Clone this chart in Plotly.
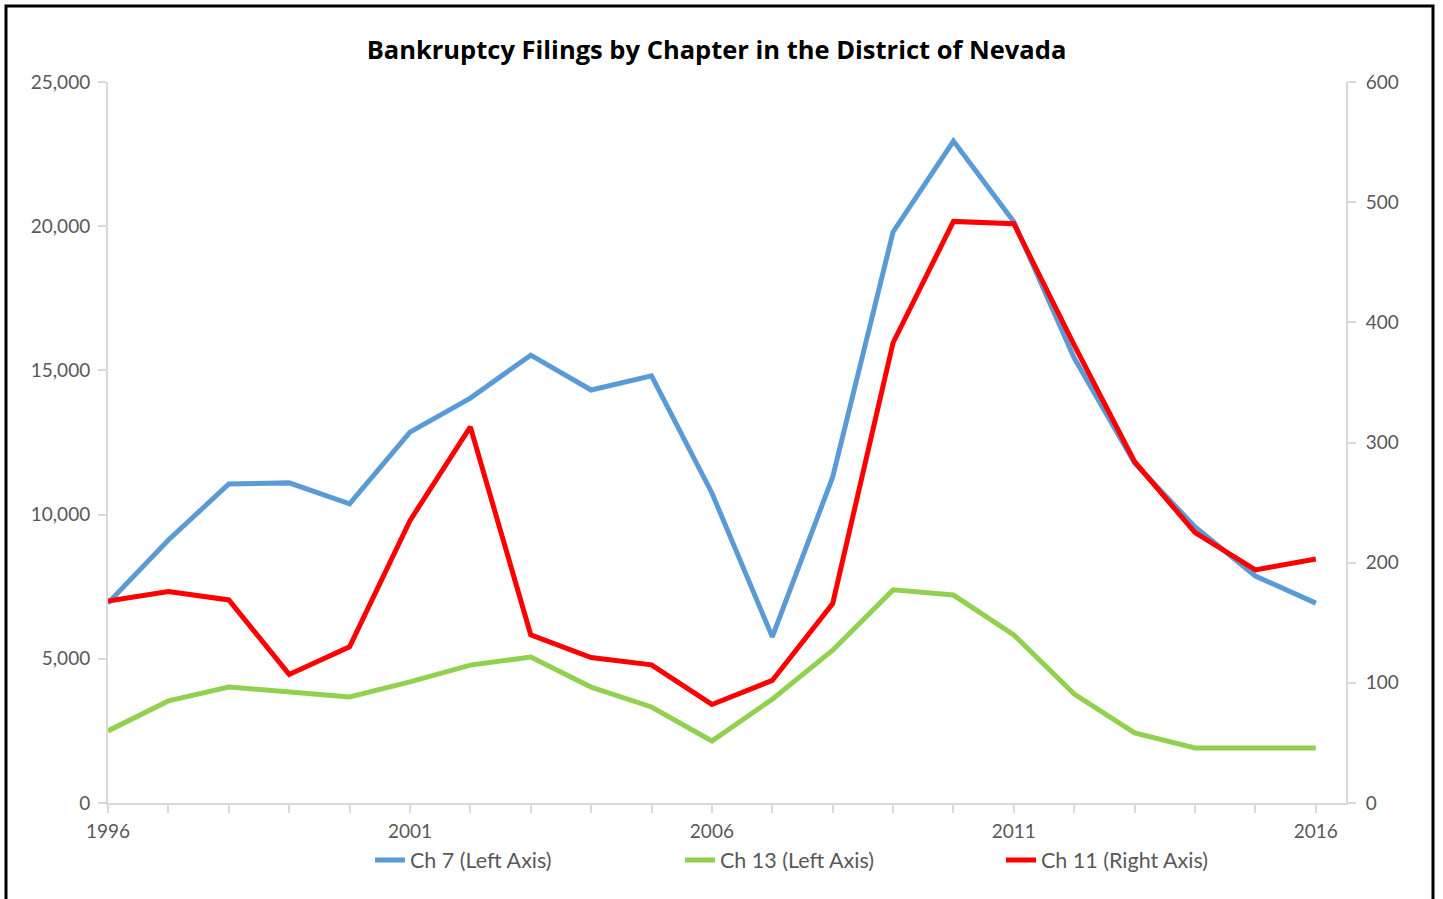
import plotly.graph_objects as go

years = list(range(1996, 2017))
ch7 = [6930, 9120, 11060, 11100, 10370, 12860, 14040, 15530, 14320, 14810, 10750,
       5760, 11300, 19800, 22950, 20150, 15430, 11790, 9570, 7870, 6930]
ch13 = [2500, 3540, 4020, 3850, 3680, 4200, 4780, 5060, 4020, 3330, 2150,
        3600, 5300, 7390, 7210, 5830, 3780, 2430, 1910, 1910, 1910]
ch11 = [168, 176, 169, 107, 130, 235, 313, 140, 121, 115, 82,
        102, 166, 383, 484, 482, 381, 284, 225, 194, 203]
tick_years = [1996, 2001, 2006, 2011, 2016]

W, H = 1443, 899
L, R, T, B = 108, 97, 82, 96
font_family = "Lato, Open Sans, sans-serif"
grey = "#595959"
axis_col = "#d9d9d9"

fig = go.Figure()
fig.add_trace(go.Scatter(x=years, y=ch7, name="Ch 7 (Left Axis)", mode="lines",
                         line=dict(color="#5B9BD5", width=5), legend="legend"))
fig.add_trace(go.Scatter(x=years, y=ch13, name="Ch 13 (Left Axis)", mode="lines",
                         line=dict(color="#92D050", width=5), legend="legend2"))
fig.add_trace(go.Scatter(x=years, y=ch11, name="Ch 11 (Right Axis)", mode="lines",
                         line=dict(color="#FF0000", width=5), yaxis="y2",
                         legend="legend3"))

leg_common = dict(orientation="h", xanchor="left", yanchor="middle",
                  xref="container", yref="container", y=1 - 860 / H,
                  font=dict(size=21.5, color=grey, family=font_family),
                  bgcolor="rgba(0,0,0,0)", borderwidth=0)

fig.update_layout(
    width=W, height=H,
    margin=dict(l=L, r=R, t=T, b=B, autoexpand=False),
    paper_bgcolor="white", plot_bgcolor="white",
    font=dict(family=font_family, color=grey, size=20),
    title=dict(text="<b>Bankruptcy Filings by Chapter in the District of Nevada</b>",
               x=716.5 / W, xanchor="center", xref="container",
               y=1 - 50 / H, yanchor="middle", yref="container",
               font=dict(size=25.5, color="black", family="Open Sans, sans-serif")),
    xaxis=dict(range=[1996, 2016.5], tickmode="array", tickvals=years,
               ticktext=[str(y) if y in tick_years else "" for y in years],
               ticks="outside", ticklen=8, tickcolor=axis_col, tickwidth=2,
               showline=True, linecolor=axis_col, linewidth=2, showgrid=False,
               zeroline=False, tickfont=dict(size=19, color=grey),
               ticklabelstandoff=2),
    yaxis=dict(range=[0, 25000], tickvals=[0, 5000, 10000, 15000, 20000, 25000],
               tickformat=",", ticks="outside", ticklen=8, tickcolor=axis_col,
               tickwidth=2, showline=True, linecolor=axis_col, linewidth=2,
               showgrid=False, zeroline=False, tickfont=dict(size=19, color=grey),
               ticklabelstandoff=4),
    yaxis2=dict(range=[0, 600], tickvals=[0, 100, 200, 300, 400, 500, 600],
                overlaying="y", side="right", ticks="outside", ticklen=8,
                tickcolor=axis_col, tickwidth=2, showline=True, linecolor=axis_col,
                linewidth=2, showgrid=False, zeroline=False,
                tickfont=dict(size=19, color=grey), ticklabelstandoff=6),
    legend=dict(x=370 / W, **leg_common),
    legend2=dict(x=680 / W, **leg_common),
    legend3=dict(x=1001 / W, **leg_common),
    showlegend=True,
)

fig.add_shape(type="rect", xref="paper", yref="paper",
              x0=(6 - L) / (W - L - R), x1=(1433 - L) / (W - L - R),
              y0=(H - B - 905) / (H - T - B), y1=(H - B - 6) / (H - T - B),
              line=dict(color="black", width=3), fillcolor="rgba(0,0,0,0)",
              layer="above")

fig.write_html("out.html", config={"displayModeBar": False},
               post_script="document.body.style.margin='0px';document.body.style.overflow='hidden';")
